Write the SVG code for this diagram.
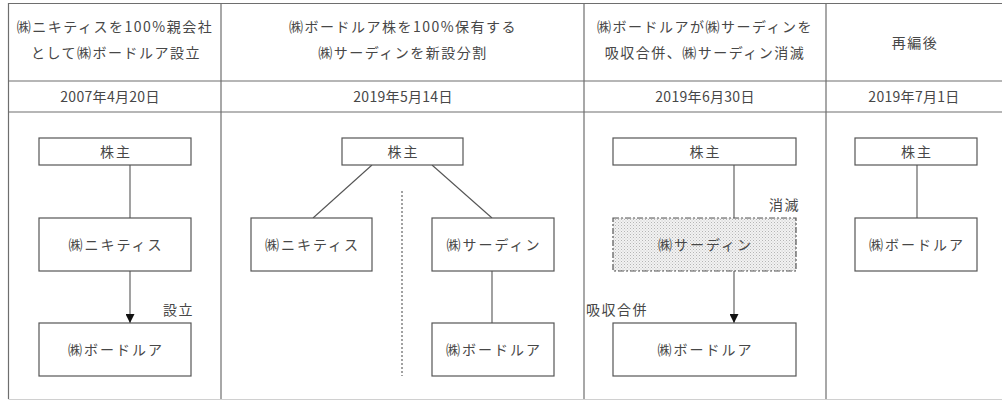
<svg xmlns="http://www.w3.org/2000/svg" width="1002" height="401" viewBox="0 0 1002 401">
<style>
text{font-family:"Noto Sans CJK JP","Noto Sans CJK SC",sans-serif;fill:#474747;font-size:14px;text-anchor:middle}
.h{letter-spacing:1.5px}
.d{letter-spacing:0.3px}
.n{letter-spacing:2px}
.lbl{letter-spacing:1.5px;text-anchor:start}
.grid{stroke:#6e6e6e;stroke-width:1.2;fill:none}
.box rect{fill:#fff;stroke:#555;stroke-width:1.2}
.conn line{stroke:#555;stroke-width:1.1}
</style>
<defs>
<pattern id="dots" width="3" height="3" patternUnits="userSpaceOnUse">
<rect width="3" height="3" fill="#f2f2f2"/>
<rect width="1" height="1" fill="#b5b5b5"/>
<rect x="1.5" y="1.5" width="1" height="1" fill="#c8c8c8"/>
</pattern>
<marker id="arr" viewBox="0 0 10 10" refX="10" refY="5" markerWidth="9" markerHeight="9" markerUnits="userSpaceOnUse" orient="auto">
<path d="M0,0 L10,5 L0,10 Z" fill="#111"/>
</marker>
</defs>
<rect width="1002" height="401" fill="#fff"/>
<g id="table" class="grid">
<line x1="8.5" y1="3.5" x2="1002" y2="3.5"/>
<line x1="8.5" y1="81" x2="1002" y2="81"/>
<line x1="8.5" y1="112" x2="1002" y2="112"/>
<line x1="8.5" y1="3" x2="8.5" y2="399"/>
<line x1="221" y1="3" x2="221" y2="399"/>
<line x1="584" y1="3" x2="584" y2="399"/>
<line x1="826" y1="3" x2="826" y2="399"/>
<line x1="8.5" y1="399.5" x2="1002" y2="399.5" stroke="#d0d0d0"/>
</g>
<g id="headers">
<text class="h" x="115" y="32">㈱ニキティスを100%親会社</text>
<text class="h" x="116" y="58">として㈱ボードルア設立</text>
<text class="d" x="110" y="102">2007年4月20日</text>
<text class="h" x="403" y="32">㈱ボードルア株を100%保有する</text>
<text class="h" x="403" y="58">㈱サーディンを新設分割</text>
<text class="d" x="403" y="102">2019年5月14日</text>
<text class="h" x="705" y="32">㈱ボードルアが㈱サーディンを</text>
<text class="h" x="705" y="58">吸収合併、㈱サーディン消滅</text>
<text class="d" x="705" y="102">2019年6月30日</text>
<text class="h" x="915" y="48">再編後</text>
<text class="d" x="914" y="102">2019年7月1日</text>
</g>
<g id="connectors" class="conn">
<line x1="130" y1="165" x2="130" y2="218"/>
<line x1="130" y1="271" x2="130" y2="323" marker-end="url(#arr)"/>
<line x1="372" y1="165" x2="313" y2="218"/>
<line x1="432" y1="165" x2="492" y2="218"/>
<line x1="492" y1="271" x2="492" y2="323"/>
<line x1="402" y1="191" x2="402" y2="376" stroke="#777" stroke-dasharray="2 2"/>
<line x1="734" y1="165" x2="734" y2="218"/>
<line x1="734" y1="271" x2="734" y2="323" marker-end="url(#arr)"/>
<line x1="917" y1="165" x2="917" y2="218"/>
</g>
<g id="c1-kabunushi" class="box"><rect x="39" y="138" width="152" height="27"/><text class="n" x="116" y="156.5">株主</text></g>
<g id="c1-nikitis" class="box"><rect x="39" y="218" width="152" height="53"/><text class="n" x="116" y="249.5">㈱ニキティス</text></g>
<g id="c1-bordelua" class="box"><rect x="39" y="323" width="152" height="53"/><text class="n" x="116" y="354.5">㈱ボードルア</text></g>
<text id="lbl-setsuritsu" class="lbl" x="163" y="315">設立</text>
<g id="c2-kabunushi" class="box"><rect x="342" y="138" width="121" height="27"/><text class="n" x="403.5" y="156.5">株主</text></g>
<g id="c2-nikitis" class="box"><rect x="251" y="218" width="121" height="53"/><text class="n" x="312.5" y="249.5">㈱ニキティス</text></g>
<g id="c2-sardine" class="box"><rect x="432" y="218" width="122" height="53"/><text class="n" x="494" y="249.5">㈱サーディン</text></g>
<g id="c2-bordelua" class="box"><rect x="432" y="323" width="122" height="53"/><text class="n" x="494" y="354.5">㈱ボードルア</text></g>
<g id="c3-kabunushi" class="box"><rect x="613" y="138" width="183" height="27"/><text class="n" x="705.5" y="156.5">株主</text></g>
<g id="c3-sardine"><rect x="613" y="218" width="183" height="53" fill="url(#dots)" stroke="#555" stroke-width="1.2" stroke-dasharray="6 2 2 2"/><text class="n" x="705.5" y="249.5">㈱サーディン</text></g>
<g id="c3-bordelua" class="box"><rect x="613" y="323" width="183" height="53"/><text class="n" x="705.5" y="354.5">㈱ボードルア</text></g>
<text id="lbl-shometsu" class="lbl" x="769" y="210">消滅</text>
<text id="lbl-kyushu" class="lbl" x="586" y="315">吸収合併</text>
<g id="c4-kabunushi" class="box"><rect x="855" y="138" width="122" height="27"/><text class="n" x="917" y="156.5">株主</text></g>
<g id="c4-bordelua" class="box"><rect x="855" y="218" width="122" height="53"/><text class="n" x="917" y="249.5">㈱ボードルア</text></g>
</svg>
